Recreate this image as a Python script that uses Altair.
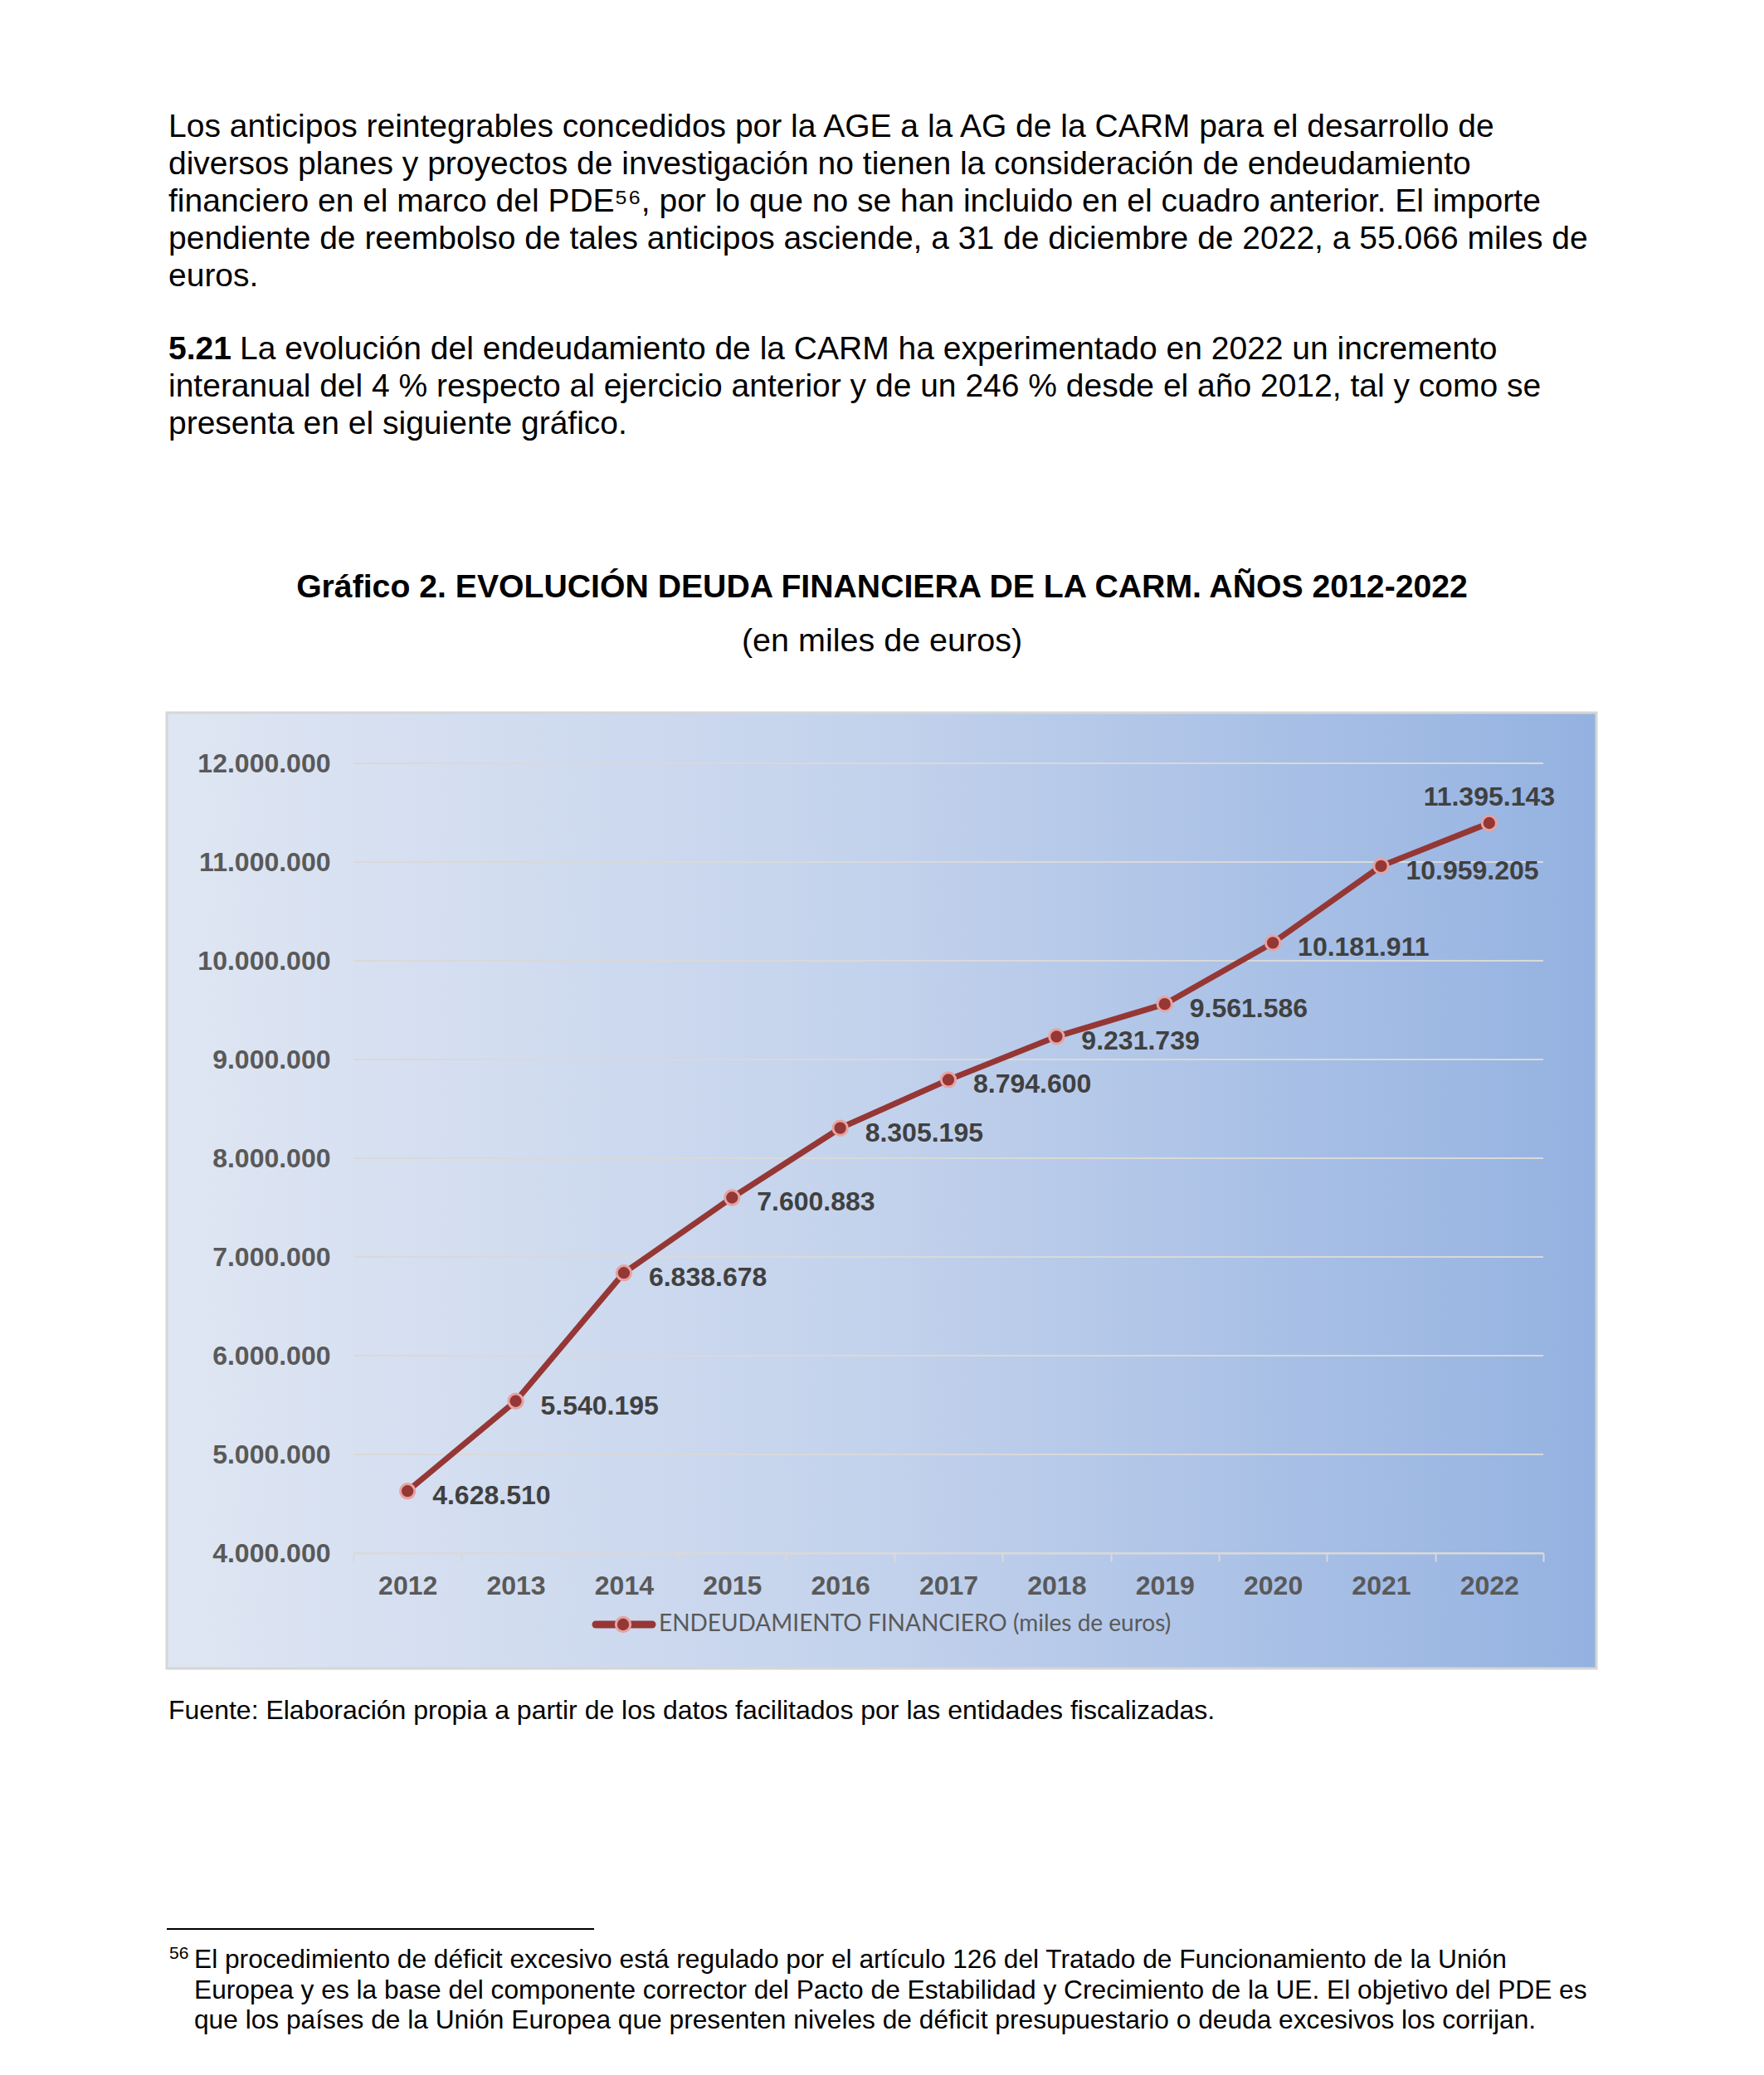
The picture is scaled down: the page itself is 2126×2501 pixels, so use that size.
import altair as alt
import pandas as pd

# ---------------- data ----------------
years = ["2012", "2013", "2014", "2015", "2016", "2017", "2018", "2019", "2020", "2021", "2022"]
values = [4628510, 5540195, 6838678, 7600883, 8305195, 8794600, 9231739, 9561586, 10181911, 10959205, 11395143]
y_ticks = [4000000, 5000000, 6000000, 7000000, 8000000, 9000000, 10000000, 11000000, 12000000]
series_name = "ENDEUDAMIENTO FINANCIERO (miles de euros)"

para1 = [
    "Los anticipos reintegrables concedidos por la AGE a la AG de la CARM para el desarrollo de",
    "diversos planes y proyectos de investigación no tienen la consideración de endeudamiento",
    "financiero en el marco del PDE\u2075\u2076, por lo que no se han incluido en el cuadro anterior. El importe",
    "pendiente de reembolso de tales anticipos asciende, a 31 de diciembre de 2022, a 55.066 miles de",
    "euros.",
]
para2_num = "5.21"
para2 = [
    "La evolución del endeudamiento de la CARM ha experimentado en 2022 un incremento",
    "interanual del 4 % respecto al ejercicio anterior y de un 246 % desde el año 2012, tal y como se",
    "presenta en el siguiente gráfico.",
]
title_txt = "Gráfico 2. EVOLUCIÓN DEUDA FINANCIERA DE LA CARM. AÑOS 2012-2022"
subtitle_txt = "(en miles de euros)"
source_txt = "Fuente: Elaboración propia a partir de los datos facilitados por las entidades fiscalizadas."
foot_num = "56"
footnote = [
    "El procedimiento de déficit excesivo está regulado por el artículo 126 del Tratado de Funcionamiento de la Unión",
    "Europea y es la base del componente corrector del Pacto de Estabilidad y Crecimiento de la UE. El objetivo del PDE es",
    "que los países de la Unión Europea que presenten niveles de déficit presupuestario o deuda excesivos los corrijan.",
]

# ---------------- layout ----------------
W, H = 1434, 952
OX, OY = 426, 920  # page position of the plot origin


def px(x):
    return x - OX


def py(y):
    return y - OY


ARIAL = "Liberation Sans"
LINE_COL = "#953735"
MARK_STROKE = "#E6A3A1"

df = pd.DataFrame({"year": years, "value": values})
df["label"] = [f"{v:,}".replace(",", ".") for v in values]
one = pd.DataFrame({"k": [0]})

x_axis = alt.Axis(
    title=None, labelAngle=0, labelFont=ARIAL, labelFontSize=32, labelFontWeight="bold",
    labelColor="#595959", domainColor="#D9D9D9", domainWidth=2, tickColor="#D9D9D9",
    tickWidth=2, tickSize=10, tickBand="extent", labelPadding=14, grid=False, zindex=1,
)
y_axis = alt.Axis(
    title=None, values=y_ticks, format=",d", labelFont=ARIAL, labelFontSize=32,
    labelFontWeight="bold", labelColor="#595959", domain=False, ticks=False, grid=False,
    labelPadding=28, zindex=1,
)
x_enc = alt.X("year:N", sort=years, scale=alt.Scale(type="band", paddingInner=0, paddingOuter=0), axis=x_axis)
y_scale = alt.Scale(domain=[4000000, 12000000], nice=False, zero=False)
y_enc = alt.Y("value:Q", scale=y_scale, axis=y_axis)

# background box
bg = alt.Chart(one).mark_rect(
    fill=alt.Gradient(
        gradient="linear",
        stops=[
            alt.GradientStop(color="#DFE6F3", offset=0),
            alt.GradientStop(color="#C3D2EC", offset=0.5),
            alt.GradientStop(color="#94B2E1", offset=1),
        ],
        x1=0, x2=1, y1=0, y2=0,
    ),
    stroke="#D6D6D6", strokeWidth=3,
).encode(x=alt.value(px(201)), x2=alt.value(px(1924)), y=alt.value(py(859)), y2=alt.value(py(2011)))

grid = alt.Chart(pd.DataFrame({"value": y_ticks})).mark_rule(color="#D9D9D9", strokeWidth=2).encode(y=y_enc)

line = alt.Chart(df).mark_line(color=LINE_COL, strokeWidth=7).encode(x=x_enc, y=y_enc)
pts = alt.Chart(df).mark_point(
    shape="circle", filled=True, fill=LINE_COL, stroke=MARK_STROKE, strokeWidth=3, size=300, opacity=1
).encode(x=x_enc, y=y_enc)

lab_main = alt.Chart(df).transform_filter(alt.datum.year != "2022").mark_text(
    align="left", baseline="middle", dx=30, dy=6, font=ARIAL, fontSize=32, fontWeight="bold", color="#404040"
).encode(x=x_enc, y=y_enc, text="label:N")
lab_last = alt.Chart(df).transform_filter(alt.datum.year == "2022").mark_text(
    align="center", baseline="middle", dy=-31, font=ARIAL, fontSize=32, fontWeight="bold", color="#404040"
).encode(x=x_enc, y=y_enc, text="label:N")

# legend
leg_y = py(1958)
leg_line = alt.Chart(one).mark_rule(color=LINE_COL, strokeWidth=9, strokeCap="round").encode(
    x=alt.value(px(718)), x2=alt.value(px(786)), y=alt.value(leg_y), y2=alt.value(leg_y)
)
leg_pt = alt.Chart(one).mark_point(
    shape="circle", filled=True, fill=LINE_COL, stroke=MARK_STROKE, strokeWidth=3, size=300, opacity=1
).encode(x=alt.value(px(751)), y=alt.value(leg_y))
leg_txt = alt.Chart(one).mark_text(
    align="left", baseline="middle", font="Lato", fontSize=28, color="#595959"
).encode(x=alt.value(px(794)), y=alt.value(leg_y), text=alt.value(series_name))


def text_lines(lines, x, y0, dy, size, weight="normal", align="left"):
    out = []
    for i, t in enumerate(lines):
        out.append(
            alt.Chart(one).mark_text(
                align=align, baseline="alphabetic", font=ARIAL, fontSize=size, fontWeight=weight,
                color="black", x=px(x), y=py(y0 + i * dy),
            ).encode(text=alt.value(t))
        )
    return out


texts = []
texts += text_lines(para1, 203, 164.5, 45.2, 39)
texts += text_lines([para2_num], 203, 433, 45.2, 39, weight="bold")
texts += text_lines(para2[:1], 289, 433, 45.2, 39)
texts += text_lines(para2[1:], 203, 478.2, 45.2, 39)
texts += text_lines([title_txt], 1063, 720, 0, 39.2, weight="bold", align="center")
texts += text_lines([subtitle_txt], 1063, 785, 0, 39.5, align="center")
texts += text_lines([source_txt], 203, 2072, 0, 32)
texts += text_lines([foot_num], 204, 2361, 0, 21)
texts += text_lines(footnote, 234, 2372, 36.7, 31.7)

foot_rule = alt.Chart(one).mark_rule(color="black", strokeWidth=2).encode(
    x=alt.value(px(201)), x2=alt.value(px(716)), y=alt.value(py(2325)), y2=alt.value(py(2325))
)

chart = alt.layer(
    bg, grid, line, pts, lab_main, lab_last, leg_line, leg_pt, leg_txt, foot_rule, *texts,
).properties(
    width=W, height=H,
    autosize=alt.AutoSizeParams(type="none"),
    padding={"left": OX - 8, "top": OY - 8, "right": 250, "bottom": 600},
    background="white",
).configure_view(stroke=None).configure(
    locale=alt.Locale(number=alt.NumberLocale(decimal=",", thousands=".", grouping=[3], currency=["", " €"]))
)

chart.save("out.html", embed_options={"renderer": "svg", "actions": False})
